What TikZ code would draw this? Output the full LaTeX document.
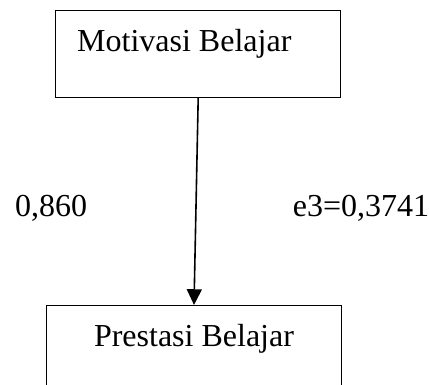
\documentclass[tikz,border=0pt]{standalone}
\usepackage{fontspec}
\setmainfont{Liberation Serif}
\usetikzlibrary{arrows.meta}
\begin{document}
\begin{tikzpicture}[x=1pt,y=-1pt,
  box/.style={draw=black,line width=1.5pt,rectangle,inner sep=0pt},
  txt/.style={inner sep=0pt,anchor=base west,font=\fontsize{32}{38}\selectfont},
  arr/.style={line width=1.6pt,-{Triangle[length=15.7pt,width=15pt]}}]
\useasboundingbox (0,0) rectangle (429,385);
\clip (0,0) rectangle (429,385);
\node[box,minimum width=285pt,minimum height=86.6pt] (top) at (198.2,54) {};
\node[box,minimum width=294.6pt,minimum height=100pt] (bot) at (194,355.7) {};
\node[txt] (t1) at (77,52) {Motivasi Belajar};
\node[txt,anchor=base] (t2) at (194,346.7) {Prestasi Belajar};
\node[txt] (l1) at (15,216.7) {0,860};
\node[txt] (l2) at (292.7,216.7) {e3=0,3741};
\draw[arr] (top.south) -- (bot.north);
\end{tikzpicture}
\end{document}
